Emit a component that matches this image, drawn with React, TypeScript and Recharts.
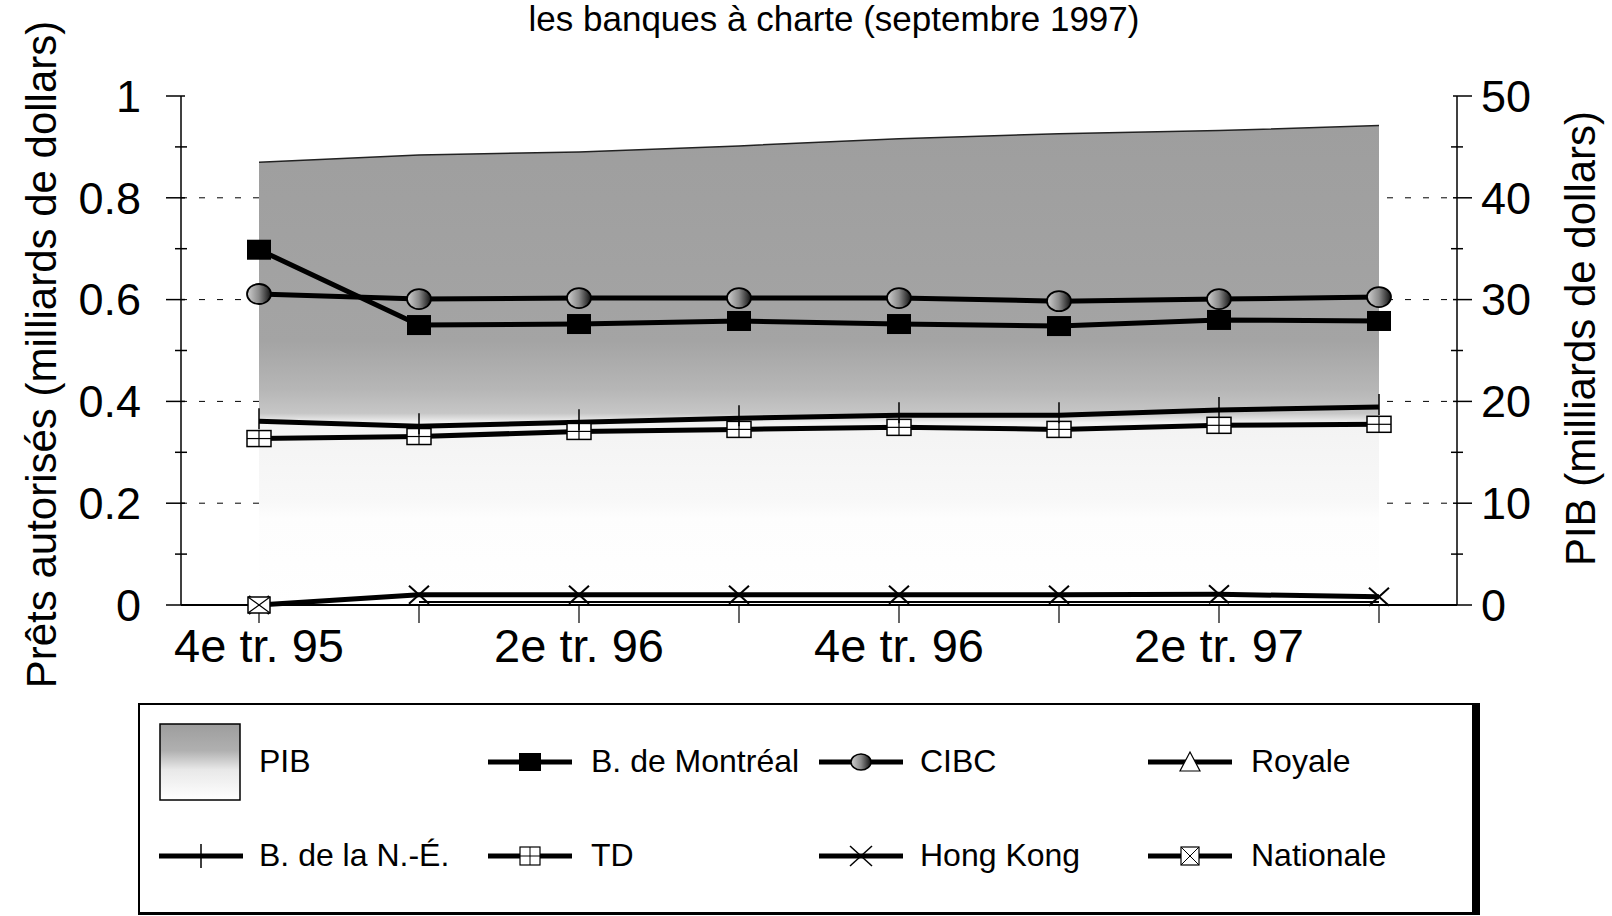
import React from 'react';
import { ComposedChart, Area, Line, XAxis, YAxis, CartesianGrid } from 'recharts';

const quarters = ['4e tr. 95', '1er tr. 96', '2e tr. 96', '3e tr. 96', '4e tr. 96', '1er tr. 97', '2e tr. 97', '3e tr. 97'];
const pib = [43.5, 44.2, 44.5, 45.1, 45.8, 46.3, 46.6, 47.1];
const montreal = [0.698, 0.55, 0.552, 0.558, 0.552, 0.548, 0.56, 0.558];
const cibc = [0.611, 0.601, 0.603, 0.603, 0.603, 0.597, 0.601, 0.605];
const royale = [null, 0.006, 0.006, 0.006, 0.006, 0.006, 0.006, 0.006];
const nouvelleEcosse = [0.361, 0.351, 0.359, 0.367, 0.373, 0.373, 0.383, 0.389];
const td = [0.327, 0.331, 0.341, 0.345, 0.349, 0.345, 0.353, 0.355];
const hongKong = [0, 0.02, 0.02, 0.02, 0.02, 0.02, 0.021, 0.016];
const nationale = [0, null, null, null, null, null, null, null];

const leftTicks = [0, 0.1, 0.2, 0.3, 0.4, 0.5, 0.6, 0.7, 0.8, 0.9, 1];
const leftLabels = ['0', '', '0.2', '', '0.4', '', '0.6', '', '0.8', '', '1'];
const rightTicks = [0, 5, 10, 15, 20, 25, 30, 35, 40, 45, 50];
const rightLabels = ['0', '', '10', '', '20', '', '30', '', '40', '', '50'];

const data = quarters.map((q, i) => ({
  q,
  pib: pib[i],
  montreal: montreal[i],
  cibc: cibc[i],
  royale: royale[i],
  ne: nouvelleEcosse[i],
  td: td[i],
  hk: hongKong[i],
  nat: nationale[i],
}));

const FONT = '"Liberation Sans", Arial, sans-serif';

// markers
const SquareDot = (p: any) =>
  p.cy == null ? <g key={p.index} /> : <rect key={p.index} x={p.cx - 12} y={p.cy - 10} width={24} height={20} fill="#000" />;

const CibcDot = (p: any) =>
  p.cy == null ? <g key={p.index} /> : (
    <ellipse key={p.index} cx={p.cx} cy={p.cy} rx={12} ry={10} fill="url(#cibcGrad)" stroke="#000" strokeWidth={1.8} />
  );

const PlusDot = (p: any) =>
  p.cy == null ? <g key={p.index} /> : (
    <line key={p.index} x1={p.cx} x2={p.cx} y1={p.cy - 13} y2={p.cy + 8} stroke="#000" strokeWidth={1.5} />
  );

const TdDot = (p: any) =>
  p.cy == null ? <g key={p.index} /> : (
    <g key={p.index}>
      <rect x={p.cx - 12} y={p.cy - 8} width={24} height={16} fill="#fff" stroke="#000" strokeWidth={1.5} />
      <line x1={p.cx} x2={p.cx} y1={p.cy - 8} y2={p.cy + 8} stroke="#000" strokeWidth={1.2} />
      <line x1={p.cx - 12} x2={p.cx + 12} y1={p.cy} y2={p.cy} stroke="#000" strokeWidth={1.2} />
    </g>
  );

const CrossDot = (p: any) =>
  p.cy == null ? <g key={p.index} /> : (
    <g key={p.index}>
      <line x1={p.cx - 10} x2={p.cx + 10} y1={p.cy - 9} y2={p.cy + 9} stroke="#000" strokeWidth={2} />
      <line x1={p.cx - 10} x2={p.cx + 10} y1={p.cy + 9} y2={p.cy - 9} stroke="#000" strokeWidth={2} />
    </g>
  );

const NatDot = (p: any) =>
  p.cy == null ? <g key={p.index} /> : (
    <g key={p.index}>
      <rect x={p.cx - 11} y={p.cy - 8} width={22} height={16} fill="#fff" stroke="#000" strokeWidth={1.5} />
      <path d={`M${p.cx - 11},${p.cy - 8} L${p.cx + 11},${p.cy + 8} M${p.cx + 11},${p.cy - 8} L${p.cx - 11},${p.cy + 8}`} stroke="#000" strokeWidth={1.2} />
    </g>
  );

const LeftTick = (p: any) => {
  const i = leftTicks.indexOf(p.payload.value);
  const label = leftLabels[i];
  const ax = p.x + 40;
  return (
    <g>
      {label ? (
        <line x1={ax - 15} x2={ax + 4} y1={p.y} y2={p.y} stroke="#000" strokeWidth={1.5} />
      ) : (
        <line x1={ax - 6} x2={ax + 6} y1={p.y} y2={p.y} stroke="#000" strokeWidth={1.5} />
      )}
      <text x={p.x} y={p.y} dy="0.35em" textAnchor="end" fontSize={45} fill="#000" fontFamily={FONT}>{label}</text>
    </g>
  );
};

const RightTick = (p: any) => {
  const i = rightTicks.indexOf(p.payload.value);
  const label = rightLabels[i];
  const ax = p.x - 24;
  return (
    <g>
      {label ? (
        <line x1={ax - 4} x2={ax + 15} y1={p.y} y2={p.y} stroke="#000" strokeWidth={1.5} />
      ) : (
        <line x1={ax - 6} x2={ax + 6} y1={p.y} y2={p.y} stroke="#000" strokeWidth={1.5} />
      )}
      <text x={p.x} y={p.y} dy="0.35em" textAnchor="start" fontSize={45} fill="#000" fontFamily={FONT}>{label}</text>
    </g>
  );
};

const LeftTitle = (p: any) => {
  const vb = p.viewBox;
  const cx = vb.x - 20;
  const cy = vb.y + vb.height / 2 + 4;
  return (
    <text x={cx} y={cy} transform={`rotate(-90 ${cx} ${cy})`} textAnchor="middle" dy="0.35em" fontSize={42} fill="#000" fontFamily={FONT}>
      Prêts autorisés (milliards de dollars)
    </text>
  );
};

const RightTitle = (p: any) => {
  const vb = p.viewBox;
  const cx = vb.x + 123;
  const cy = vb.y + vb.height / 2 - 12;
  return (
    <text x={cx} y={cy} transform={`rotate(-90 ${cx} ${cy})`} textAnchor="middle" dy="0.35em" fontSize={42} fill="#000" fontFamily={FONT}>
      PIB (milliards de dollars)
    </text>
  );
};

const legendItems = [
  { name: 'PIB', kind: 'area', row: 0, col: 0 },
  { name: 'B. de Montréal', kind: 'square', row: 0, col: 1 },
  { name: 'CIBC', kind: 'cibc', row: 0, col: 2 },
  { name: 'Royale', kind: 'triangle', row: 0, col: 3 },
  { name: 'B. de la N.-É.', kind: 'plus', row: 1, col: 0 },
  { name: 'TD', kind: 'td', row: 1, col: 1 },
  { name: 'Hong Kong', kind: 'cross', row: 1, col: 2 },
  { name: 'Nationale', kind: 'nat', row: 1, col: 3 },
];
const colIcon = [19, 348, 679, 1008];
const colText = [119, 451, 780, 1111];
const rowY = [57, 151];

const LegendIcon = ({ kind }: { kind: string }) => {
  if (kind === 'area') {
    return (
      <svg width={82} height={78} style={{ position: 'absolute', left: 0, top: 0 }}>
        <rect x={1} y={1} width={80} height={76} fill="url(#legGrad)" stroke="#000" strokeWidth={1.5} />
      </svg>
    );
  }
  const c = 42;
  const y = 15;
  let m: React.ReactNode = null;
  if (kind === 'square') m = <rect x={c - 11} y={y - 9} width={22} height={18} fill="#000" />;
  if (kind === 'cibc') m = <ellipse cx={c} cy={y} rx={10} ry={8} fill="url(#legCibc)" stroke="#000" strokeWidth={1.5} />;
  if (kind === 'triangle') m = <path d={`M${c},${y - 10} L${c + 10},${y + 9} L${c - 10},${y + 9} Z`} fill="#fff" stroke="#000" strokeWidth={1.2} />;
  if (kind === 'plus') m = <line x1={c} x2={c} y1={y - 12} y2={y + 12} stroke="#000" strokeWidth={1.5} />;
  if (kind === 'td') m = (
    <g>
      <rect x={c - 10} y={y - 9} width={20} height={18} fill="#fff" stroke="#000" strokeWidth={1.2} />
      <line x1={c} x2={c} y1={y - 9} y2={y + 9} stroke="#000" strokeWidth={1} />
      <line x1={c - 10} x2={c + 10} y1={y} y2={y} stroke="#000" strokeWidth={1} />
    </g>
  );
  if (kind === 'cross') m = (
    <g>
      <line x1={c - 11} x2={c + 11} y1={y - 10} y2={y + 10} stroke="#000" strokeWidth={1.5} />
      <line x1={c - 11} x2={c + 11} y1={y + 10} y2={y - 10} stroke="#000" strokeWidth={1.5} />
    </g>
  );
  if (kind === 'nat') m = (
    <g>
      <rect x={c - 9} y={y - 9} width={18} height={18} fill="#fff" stroke="#000" strokeWidth={1.2} />
      <path d={`M${c - 9},${y - 9} L${c + 9},${y + 9} M${c + 9},${y - 9} L${c - 9},${y + 9}`} stroke="#000" strokeWidth={1} />
    </g>
  );
  return (
    <svg width={84} height={30} style={{ position: 'absolute', left: 0, top: -15 }}>
      <line x1={0} x2={84} y1={y} y2={y} stroke="#000" strokeWidth={5} />
      {m}
    </svg>
  );
};

const App: React.FC = () => {
  return (
    <div style={{ position: 'absolute', left: 0, top: 0, width: 1612, height: 916, background: '#fff', fontFamily: FONT }}>
      <div style={{ position: 'absolute', left: 0, width: 1612, top: 0, textAlign: 'center', fontSize: 35, lineHeight: '38px', paddingLeft: 56, boxSizing: 'border-box' }}>
        les banques à charte (septembre 1997)
      </div>
      <ComposedChart width={1612} height={916} data={data} margin={{ top: 96, right: 55, bottom: 251, left: 61 }} style={{ fontFamily: FONT }}>
        <defs>
          <linearGradient id="pibGrad" x1="0" y1="0" x2="0" y2="1">
            <stop offset="0" stopColor="#9e9e9e" />
            <stop offset="0.45" stopColor="#a4a4a4" />
            <stop offset="0.55" stopColor="#b6b6b6" />
            <stop offset="0.6" stopColor="#c6c6c6" />
            <stop offset="0.62" stopColor="#f3f3f3" />
            <stop offset="0.78" stopColor="#f8f8f8" />
            <stop offset="0.82" stopColor="#fdfdfd" />
            <stop offset="1" stopColor="#ffffff" />
          </linearGradient>
          <linearGradient id="cibcGrad" x1="0" y1="0" x2="1" y2="0">
            <stop offset="0" stopColor="#d0d0d0" />
            <stop offset="0.5" stopColor="#8a8a8a" />
            <stop offset="1" stopColor="#111" />
          </linearGradient>
        </defs>
        <CartesianGrid yAxisId="left" vertical={false} horizontalValues={[0.2, 0.4, 0.6, 0.8]} stroke="#000" strokeDasharray="6 12" />
        <XAxis
          dataKey="q"
          yAxisId="left"
          interval={0}
          padding={{ left: 78, right: 78 }}
          height={60}
          tickSize={18}
          tickMargin={6}
          axisLine={{ stroke: '#000', strokeWidth: 2 }}
          tickLine={{ stroke: '#000', strokeWidth: 1.2 }}
          tick={{ fontSize: 47, fill: '#000', fontFamily: FONT }}
          tickFormatter={(v: string, i: number) => (i % 2 === 0 ? v : '')}
        />
        <YAxis
          yAxisId="left"
          domain={[0, 1]}
          ticks={leftTicks}
          width={120}
          tickSize={0}
          tickMargin={40}
          axisLine={{ stroke: '#000', strokeWidth: 1.5 }}
          tickLine={false}
          tick={<LeftTick />}
          label={{ content: <LeftTitle /> }}
        />
        <YAxis
          yAxisId="right"
          orientation="right"
          domain={[0, 50]}
          ticks={rightTicks}
          width={100}
          tickSize={0}
          tickMargin={24}
          axisLine={{ stroke: '#000', strokeWidth: 1.5 }}
          tickLine={false}
          tick={<RightTick />}
          label={{ content: <RightTitle /> }}
        />
        <Area yAxisId="right" dataKey="pib" type="linear" fill="url(#pibGrad)" fillOpacity={1} stroke="#222" strokeWidth={1.5} isAnimationActive={false} />
        <Line yAxisId="left" dataKey="royale" type="linear" stroke="#000" strokeWidth={2} dot={false} isAnimationActive={false} />
        <Line yAxisId="left" dataKey="hk" type="linear" stroke="#000" strokeWidth={5} dot={CrossDot} isAnimationActive={false} />
        <Line yAxisId="left" dataKey="nat" type="linear" stroke="#000" strokeWidth={5} dot={NatDot} isAnimationActive={false} />
        <Line yAxisId="left" dataKey="td" type="linear" stroke="#000" strokeWidth={5} dot={TdDot} isAnimationActive={false} />
        <Line yAxisId="left" dataKey="ne" type="linear" stroke="#000" strokeWidth={5} dot={PlusDot} isAnimationActive={false} />
        <Line yAxisId="left" dataKey="montreal" type="linear" stroke="#000" strokeWidth={5} dot={SquareDot} isAnimationActive={false} />
        <Line yAxisId="left" dataKey="cibc" type="linear" stroke="#000" strokeWidth={5} dot={CibcDot} isAnimationActive={false} />
      </ComposedChart>
      <div
        style={{
          position: 'absolute',
          left: 138,
          top: 703,
          width: 1342,
          height: 212,
          boxSizing: 'border-box',
          borderTop: '2px solid #000',
          borderLeft: '2px solid #000',
          borderBottom: '3px solid #000',
          borderRight: '8px solid #000',
          background: '#fff',
        }}
      >
        <svg width={0} height={0} style={{ position: 'absolute' }}>
          <defs>
            <linearGradient id="legGrad" x1="0" y1="0" x2="0" y2="1">
              <stop offset="0" stopColor="#9d9d9d" />
              <stop offset="0.35" stopColor="#b0b0b0" />
              <stop offset="0.6" stopColor="#e8e8e8" />
              <stop offset="1" stopColor="#ffffff" />
            </linearGradient>
            <linearGradient id="legCibc" x1="0" y1="0" x2="1" y2="0">
              <stop offset="0" stopColor="#d0d0d0" />
              <stop offset="0.5" stopColor="#8a8a8a" />
              <stop offset="1" stopColor="#111" />
            </linearGradient>
          </defs>
        </svg>
        {legendItems.map((it) => (
          <React.Fragment key={it.name}>
            <div
              style={{
                position: 'absolute',
                left: colIcon[it.col],
                top: it.kind === 'area' ? 18 : rowY[it.row],
              }}
            >
              <LegendIcon kind={it.kind} />
            </div>
            <div
              style={{
                position: 'absolute',
                left: colText[it.col],
                top: rowY[it.row] - 20,
                fontSize: 32,
                lineHeight: '38px',
                whiteSpace: 'nowrap',
              }}
            >
              {it.name}
            </div>
          </React.Fragment>
        ))}
      </div>
    </div>
  );
};

export default App;
